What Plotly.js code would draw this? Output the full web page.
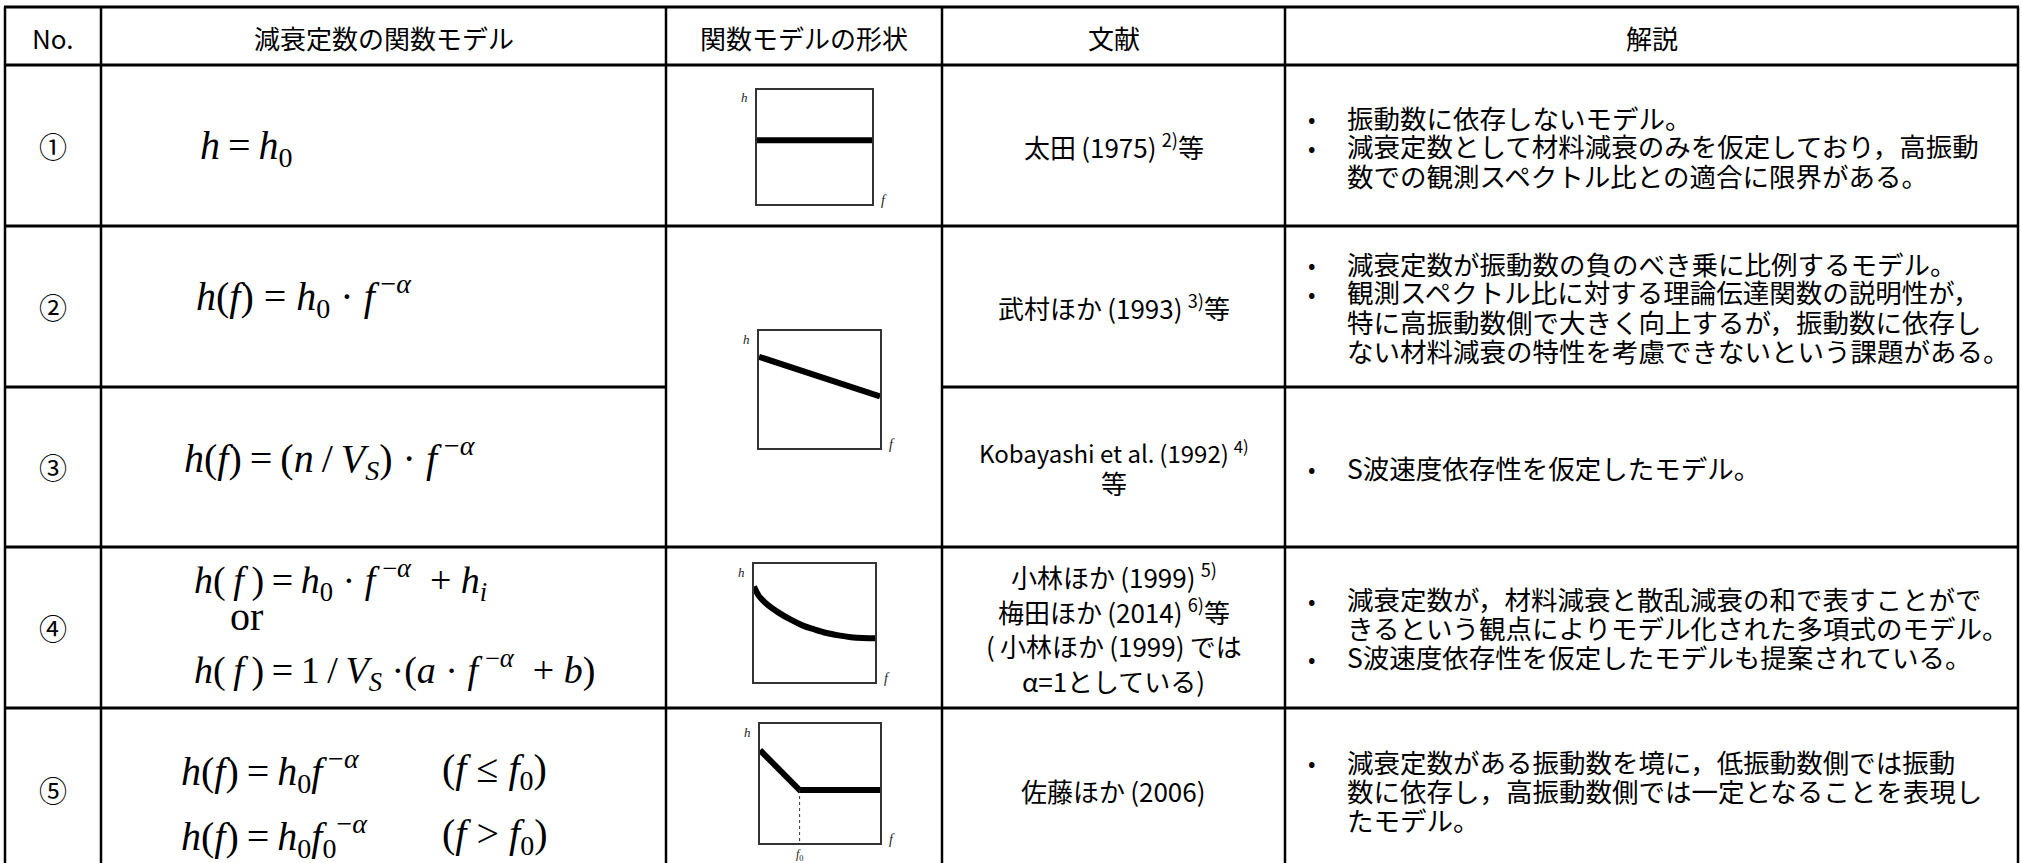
<!DOCTYPE html>
<html><head><meta charset="utf-8">
<script src="https://cdn.plot.ly/plotly-3.0.1.min.js"></script>
<style>html,body{margin:0;padding:0;background:#fff;overflow:hidden;} #chart{width:2022px;height:863px;}</style>
</head><body><div id="chart"></div>
<script>
// ---------------- data ----------------
const headers = ['No.', '減衰定数の関数モデル', '関数モデルの形状', '文献', '解説'];
const rowNos = ['①', '②', '③', '④', '⑤'];

const S = '\u00a0', T = '\u2009';
const formulaRow1 = ['<i>h</i>' + T + '=' + T + '<i>h</i><sub>0</sub>'];
const formulaRow2 = ['<i>h</i>(<i>f</i>)' + S + '=' + S + '<i>h</i><sub>0</sub>' + S + '·' + S + '<i>f</i><sup>' + T + '−<i>α</i></sup>'];
const formulaRow3 = ['<i>h</i>(<i>f</i>)' + T + '=' + T + '(<i>n</i>' + T + '/' + T + '<i>V</i><sub><i>S</i></sub>)' + S + '·' + S + '<i>f</i><sup>' + S + '−<i>α</i></sup>'];
const formulaRow4 = [
  '<i>h</i>(' + T + '<i>f</i>' + T + ')' + T + '=' + T + '<i>h</i><sub>0</sub>' + S + '·' + S + '<i>f</i><sup>' + S + '−<i>α</i></sup>' + S + S + '+' + S + '<i>h</i><sub><i>i</i></sub>',
  'or',
  '<i>h</i>(' + T + '<i>f</i>' + T + ')' + T + '=' + T + '1' + T + '/' + T + '<i>V</i><sub><i>S</i></sub>' + S + '·(<i>a</i>' + S + '·' + S + '<i>f</i><sup>' + S + '−<i>α</i></sup>' + S + S + '+' + S + '<i>b</i>)'
];
const formulaRow5 = [
  '<i>h</i>(<i>f</i>)' + T + '=' + T + '<i>h</i><sub>0</sub><i>f</i><sup>' + T + '−<i>α</i></sup>',
  '<i>h</i>(<i>f</i>)' + T + '=' + T + '<i>h</i><sub>0</sub><i>f</i><sub>0</sub><sup>−<i>α</i></sup>'
];
const conditionRow5 = ['(<i>f</i>' + S + '≤' + S + '<i>f</i><sub>0</sub>)', '(<i>f</i>' + S + '>' + S + '<i>f</i><sub>0</sub>)'];

const references = [
  ['太田' + T + '(1975)' + T + '<sup>2)</sup>等'],
  ['武村ほか' + T + '(1993)' + T + '<sup>3)</sup>等'],
  ['Kobayashi et al.' + T + '(1992)' + T + '<sup>4)</sup>', '等'],
  ['小林ほか' + T + '(1999)' + T + '<sup>5)</sup>', '梅田ほか' + T + '(2014)' + T + '<sup>6)</sup>等',
   '(' + T + '小林ほか' + T + '(1999)' + T + 'では', 'α=1としている)'],
  ['佐藤ほか' + T + '(2006)']
];

// each line: [bullet, text]
const descriptions = [
  [['•', '振動数に依存しないモデル。'],
   ['•', '減衰定数として材料減衰のみを仮定しており，高振動'],
   ['',  '数での観測スペクトル比との適合に限界がある。']],
  [['•', '減衰定数が振動数の負のべき乗に比例するモデル。'],
   ['•', '観測スペクトル比に対する理論伝達関数の説明性が，'],
   ['',  '特に高振動数側で大きく向上するが，振動数に依存し'],
   ['',  'ない材料減衰の特性を考慮できないという課題がある。']],
  [['•', 'S波速度依存性を仮定したモデル。']],
  [['•', '減衰定数が，材料減衰と散乱減衰の和で表すことがで'],
   ['',  'きるという観点によりモデル化された多項式のモデル。'],
   ['•', 'S波速度依存性を仮定したモデルも提案されている。']],
  [['•', '減衰定数がある振動数を境に，低振動数側では振動'],
   ['',  '数に依存し，高振動数側では一定となることを表現し'],
   ['',  'たモデル。']]
];

// schematic curves of the model shapes (normalized f, h)
const flatF = [0, 1];
const flatH = [0.56, 0.56];
const powerF = [0, 1];
const powerH = [0.78, 0.44];
const sumF = [0, 0.04, 0.1, 0.2, 0.3, 0.4, 0.5, 0.6, 0.7, 0.8, 0.9, 1.0];
const sumH = [0.81, 0.73, 0.665, 0.59, 0.53, 0.48, 0.445, 0.415, 0.395, 0.38, 0.372, 0.37];
const breakF = [0, 0.33, 1];
const breakH = [0.78, 0.445, 0.445];
const breakF0 = [0.33, 0.33];
const breakF0H = [0.445, 0];

// ---------------- layout constants ----------------
const W = 2022, H = 863;
const colX = [5, 101, 666, 942, 1285, 2018];
const rowY = [7, 65, 226, 387, 547, 708];
const rowCenter = [37, 146, 306.5, 467, 627.5, 790];
const px = v => v / W;
const py = v => 1 - v / H;
const colC = i => (colX[i] + colX[i + 1]) / 2;

const JP = 'Noto Sans CJK JP';
const SERIF = 'Liberation Serif';
const ann = [];
const shapes = [];

function txt(x, y, text, opt) {
  opt = opt || {};
  ann.push({
    xref: 'paper', yref: 'paper', x: px(x), y: py(y), text: text, showarrow: false,
    xanchor: opt.xa || 'center', yanchor: opt.ya || 'middle',
    font: {family: opt.family || JP, size: opt.size || 26, color: '#000'}
  });
}

// grid
function hline(y, x0, x1, w) {
  shapes.push({type: 'line', xref: 'paper', yref: 'paper', x0: px(x0), x1: px(x1), y0: py(y), y1: py(y),
    line: {color: '#000', width: w || 3}});
}
function vline(x, y0, y1, w) {
  shapes.push({type: 'line', xref: 'paper', yref: 'paper', x0: px(x), x1: px(x), y0: py(y0), y1: py(y1),
    line: {color: '#000', width: w || 2.5}});
}
colX.forEach(x => vline(x, rowY[0], H + 5));
hline(rowY[0], colX[0] - 1, colX[5] + 1);
hline(rowY[1], colX[0], colX[5]);
hline(rowY[2], colX[0], colX[5]);
hline(rowY[3], colX[0], colX[2]);   // merged shape cell for rows 2-3
hline(rowY[3], colX[3], colX[5]);
hline(rowY[4], colX[0], colX[5]);
hline(rowY[5], colX[0], colX[5]);

// header
headers.forEach((h, i) => txt(colC(i), rowCenter[0], h, {size: 26}));
// row numbers
rowNos.forEach((n, i) => txt(colC(0), rowCenter[i + 1], n, {size: 28}));

// formulas
const formulaPos = [
  [{x: 198, y: 148, s: 40}],
  [{x: 194, y: 296, s: 40}],
  [{x: 182, y: 458, s: 40}],
  [{x: 192, y: 580, s: 38}, {x: 228, y: 616, s: 40}, {x: 192, y: 670, s: 38}],
  [{x: 179, y: 771, s: 40}, {x: 179, y: 836, s: 40}]
];
[formulaRow1, formulaRow2, formulaRow3, formulaRow4, formulaRow5].forEach((rows, r) => {
  rows.forEach((t, k) => {
    const p = formulaPos[r][k];
    txt(p.x, p.y, t, {xa: 'left', family: SERIF, size: p.s});
  });
});
conditionRow5.forEach((t, k) => txt(440, formulaPos[4][k].y, t, {xa: 'left', family: SERIF, size: 40}));

// references
const refSpacing = [30, 30, 30, 35, 30];
references.forEach((lines, r) => {
  const n = lines.length;
  lines.forEach((t, k) => {
    const isLatin = /^Kobayashi/.test(t);
    txt(colC(3), rowCenter[r + 1] + (k - (n - 1) / 2) * refSpacing[r], t, {size: isLatin ? 24 : 26});
  });
});

// descriptions
const descSpacing = 29;
descriptions.forEach((lines, r) => {
  const n = lines.length;
  lines.forEach((l, k) => {
    const y = rowCenter[r + 1] + (k - (n - 1) / 2) * descSpacing;
    if (l[0]) txt(1311, y, l[0], {size: 22});
    txt(1345, y, l[1], {xa: 'left', size: 26.5});
  });
});

// ---------------- mini plots ----------------
const boxes = [
  {x: [757, 872], y: [90, 204], f: flatF, h: flatH},
  {x: [759, 880], y: [331, 448], f: powerF, h: powerH},
  {x: [754, 875], y: [564, 682], f: sumF, h: sumH},
  {x: [760, 880], y: [724, 843], f: breakF, h: breakH}
];
const traces = [];
const layout = {
  width: W, height: H, margin: {l: 0, r: 0, t: 0, b: 0},
  paper_bgcolor: '#fff', plot_bgcolor: 'rgba(0,0,0,0)', showlegend: false,
  annotations: ann, shapes: shapes
};
boxes.forEach((b, i) => {
  const n = i + 2;
  const xa = 'xaxis' + n, ya = 'yaxis' + n;
  const axCommon = {range: [0, 1], showline: true, mirror: true, linecolor: '#333', linewidth: 1.6,
    showgrid: false, zeroline: false, showticklabels: false, ticks: '', fixedrange: true};
  layout[xa] = Object.assign({domain: [px(b.x[0]), px(b.x[1])], anchor: 'y' + n}, axCommon);
  layout[ya] = Object.assign({domain: [py(b.y[1]), py(b.y[0])], anchor: 'x' + n}, axCommon);
  traces.push({type: 'scatter', mode: 'lines', x: b.f, y: b.h, xaxis: 'x' + n, yaxis: 'y' + n,
    line: {color: '#000', width: 6, shape: i === 2 ? 'spline' : 'linear'}, hoverinfo: 'skip'});
  ann.push({xref: 'x' + n + ' domain', yref: 'y' + n + ' domain', x: -0.06, y: 0.93, text: '<i>h</i>',
    showarrow: false, xanchor: 'right', yanchor: 'middle', font: {family: SERIF, size: 13, color: '#222'}});
  ann.push({xref: 'x' + n + ' domain', yref: 'y' + n + ' domain', x: 1.06, y: 0.03, text: '<i>f</i>',
    showarrow: false, xanchor: 'left', yanchor: 'middle', font: {family: SERIF, size: 14, color: '#222'}});
});
traces.push({type: 'scatter', mode: 'lines', x: breakF0, y: breakF0H, xaxis: 'x5', yaxis: 'y5',
  line: {color: '#333', width: 1, dash: 'dot'}, hoverinfo: 'skip'});
ann.push({xref: 'x5', yref: 'y5 domain', x: breakF0[0], y: -0.1, text: '<i>f</i><sub>0</sub>',
  showarrow: false, xanchor: 'center', yanchor: 'middle', font: {family: SERIF, size: 12, color: '#222'}});

Plotly.newPlot('chart', traces, layout, {staticPlot: true});
</script></body></html>
